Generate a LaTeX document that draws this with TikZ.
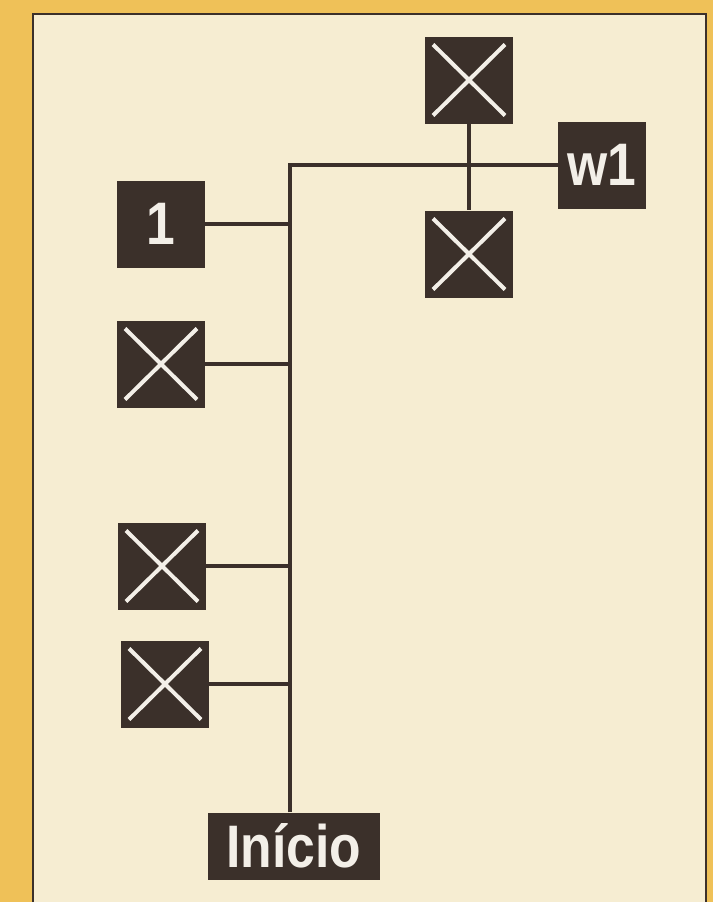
\documentclass[tikz,border=0pt]{standalone}
\usepackage{fontspec}
\setmainfont{Liberation Sans}
\definecolor{frame}{HTML}{EFC158}
\definecolor{paper}{HTML}{F6EDD2}
\definecolor{ink}{HTML}{3B302A}
\definecolor{chalk}{HTML}{F3EFE8}
\newcommand{\cond}[1]{\scalebox{0.86}[1]{#1}}
\tikzset{
  blk/.style={rectangle,fill=ink,inner sep=0pt,minimum width=88pt,minimum height=87pt,
    text=chalk,font=\bfseries\fontsize{60}{60}\selectfont},
  xblk/.style={blk,path picture={
    \draw[chalk,line width=4pt]
      ([shift={(8pt,8pt)}]path picture bounding box.south west) -- ([shift={(-8pt,-8pt)}]path picture bounding box.north east)
      ([shift={(8pt,-8pt)}]path picture bounding box.north west) -- ([shift={(-8pt,8pt)}]path picture bounding box.south east);}},
  wire/.style={ink,line width=4pt}
}
\begin{document}
\begin{tikzpicture}[x=1pt,y=-1pt]
  \useasboundingbox (0,0) rectangle (713,902);
  \fill[frame] (0,0) rectangle (713,902);
  \draw[fill=paper,draw=ink,line width=2.5pt] (33,14) rectangle (706,912);
  % blocks
  \node[xblk] (xa) at (469,80) {};
  \node[blk] (w1) at (602,165) {\cond{w1}};
  \node[xblk] (xb) at (469,254) {};
  \node[blk] (one) at (161,224) {\cond{1}};
  \node[xblk] (xc) at (161,364) {};
  \node[xblk] (xd) at (162,566) {};
  \node[xblk] (xe) at (165,684) {};
  \node[blk,minimum width=172pt,minimum height=67pt] (start) at (294,846) {\cond{Início}};
  \coordinate (top) at (290,165);
  % wires
  \draw[wire] (top |- start.north) -- (top) -- (w1.west);
  \draw[wire] (xa.south) -- (xb.north);
  \draw[wire] (one.east) -- (one.east -| top);
  \draw[wire] (xc.east) -- (xc.east -| top);
  \draw[wire] (xd.east) -- (xd.east -| top);
  \draw[wire] (xe.east) -- (xe.east -| top);
\end{tikzpicture}
\end{document}
